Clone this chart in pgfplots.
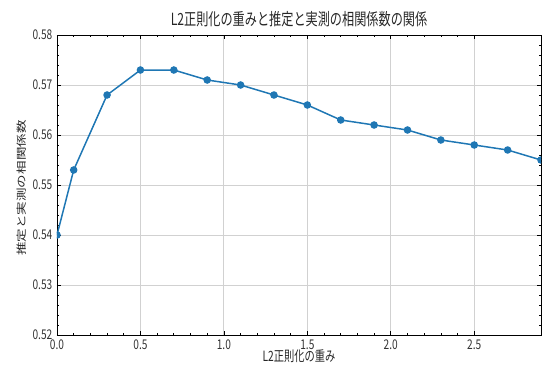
\documentclass[border=0pt]{standalone}
\usepackage{fontspec}
\setmainfont{Noto Sans CJK JP}
\usepackage{pgfplots}
\pgfplotsset{compat=1.18}
\definecolor{mplblue}{RGB}{31,119,180}
\begin{document}
\begin{tikzpicture}
\begin{axis}[
  scale only axis,
  width=484bp, height=300bp,
  xmin=0, xmax=2.9, ymin=0.52, ymax=0.58,
  xtick={0,0.5,1,1.5,2,2.5},
  xticklabels={0.0,0.5,1.0,1.5,2.0,2.5},
  ytick={0.52,0.53,0.54,0.55,0.56,0.57,0.58},
  yticklabels={0.52,0.53,0.54,0.55,0.56,0.57,0.58},
  minor x tick num=4, minor y tick num=4,
  tick align=inside, tick pos=both,
  major tick length=4bp, minor tick length=2bp,
  every tick/.style={black, line width=0.7pt},
  grid=major, major grid style={black!18, line width=0.8pt},
  axis line style={black, line width=1pt},
  ticklabel style={font=\fontsize{10.2}{12}\selectfont, text=black!80, yscale=1.32},
  xticklabel style={anchor=north, yshift=-3.2bp, inner sep=0pt},
  yticklabel style={anchor=east, xshift=-4.5bp, inner sep=0pt},
  title={L2正則化の重みと推定と実測の相関係数の関係},
  title style={font=\fontsize{12.2}{13}\selectfont, text=black!85, yscale=1.38,
    at={(axis description cs:0.5,1.012)}, anchor=base},
  xlabel={L2正則化の重み},
  ylabel={推定と実測の相関係数},
  xlabel style={font=\fontsize{10.3}{12}\selectfont, text=black!85, yscale=1.38,
    at={(axis description cs:0.5,-0.0895)}, anchor=base},
  ylabel style={font=\fontsize{10.2}{12}\selectfont, text=black!85, xscale=1.33,
    at={(axis description cs:-0.0723,0.49)}, anchor=center},
  clip marker paths=true,
]
\addplot[color=mplblue, line width=1.5pt, mark=*, mark size=3pt,
  mark options={fill=mplblue, solid}] coordinates {
(0.0,0.540) (0.1,0.553) (0.3,0.568) (0.5,0.573) (0.7,0.573) (0.9,0.571)
(1.1,0.570) (1.3,0.568) (1.5,0.566) (1.7,0.563) (1.9,0.562) (2.1,0.561)
(2.3,0.559) (2.5,0.558) (2.7,0.557) (2.9,0.555)
};
\end{axis}
\pgfresetboundingbox
\useasboundingbox (-57bp,-32bp) rectangle (486bp,335bp);
\end{tikzpicture}
\end{document}
